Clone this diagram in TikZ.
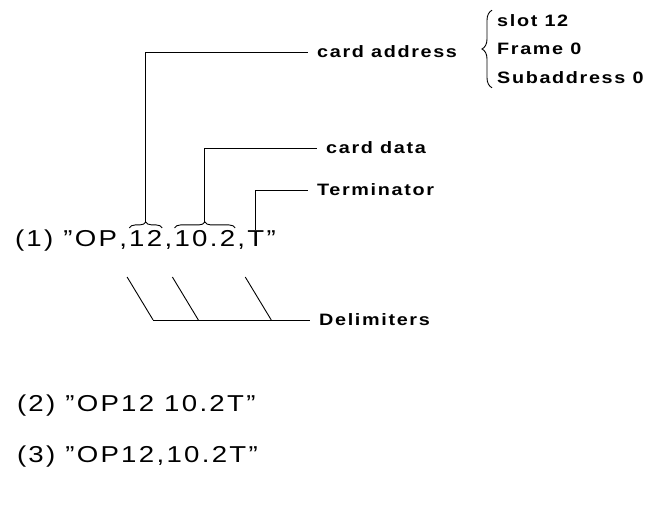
\documentclass[tikz,border=0pt]{standalone}
\usepackage{fontspec}
\setmainfont{Liberation Sans}
\newfontfamily\strfont{Liberation Sans}[FakeStretch=1.2,LetterSpace=10]
\newfontfamily\lblfont{Liberation Sans}[FakeStretch=1.2,LetterSpace=10]
\usetikzlibrary{positioning,decorations.pathreplacing,calc}
\def\gap{2.3pt}
\tikzset{
  str/.style={inner sep=0pt,outer sep=0pt,font=\strfont\fontsize{23}{27}\selectfont},
  lbl/.style={anchor=west,inner sep=0pt,inner xsep=9pt,
              font=\lblfont\bfseries\fontsize{16.5}{20}\selectfont},
  wire/.style={line width=.9pt},
  brc/.style={wire,decorate,decoration={brace,amplitude=#1}},
}

\begin{document}
\begin{tikzpicture}[x=1pt,y=1pt]
  \useasboundingbox (0,0) rectangle (664,504);
  % example (1), split so the parts can be pointed at
  \node[str,anchor=base west] (l1a) at (15,257) {(1) ”OP};
  \node[str,base right=\gap of l1a] (c1) {,};
  \node[str,base right=\gap of c1] (n12) {12};
  \node[str,base right=\gap of n12] (c2) {,};
  \node[str,base right=\gap of c2] (n102) {10.2};
  \node[str,base right=\gap of n102] (c3) {,};
  \node[str,base right=\gap of c3] (nT) {T};
  \node[str,base right=\gap of nT] (q1) {”};
  % labels
  \node[lbl] (addr) at (308,452) {card address};
  \node[lbl] (data) at (317,356) {card data};
  \node[lbl] (term) at (308,314) {Terminator};
  \node[lbl] (delim) at (310,184) {Delimiters};
  \node[lbl,inner xsep=0pt,inner ysep=4pt,align=left,
        font=\lblfont\bfseries\fontsize{16.5}{28.5}\selectfont]
        (parts) at (497,455) {slot 12\\Frame 0\\Subaddress 0};
  % braces and leaders
  \draw[brc=10pt] ([xshift=-5pt]parts.south west) -- ([xshift=-5pt]parts.north west);
  \draw[brc=6pt] ([yshift=3pt]n12.north west) -- ([yshift=3pt]n12.north east);
  \draw[brc=6pt] ([yshift=3pt]n102.north west) -- ([yshift=3pt]n102.north east);
  \draw[wire] ([yshift=9pt]n12.north) |- (addr.west);
  \draw[wire] ([yshift=9pt]n102.north) |- (data.west);
  \draw[wire] ([yshift=1pt]nT.north) |- (term.west);
  \foreach \i in {1,2,3}
    \draw[wire] ([xshift=4pt,yshift=-30pt]c\i.base) -- ++(26,-43) coordinate (d\i);
  \draw[wire] (d1) -- (delim.west);
  % examples (2) and (3)
  \node[str,anchor=base west] (ex2) at (17,93) {(2) ”OP12 10.2T”};
  \node[str,anchor=base west] (ex3) at (17,42) {(3) ”OP12,10.2T”};
\end{tikzpicture}
\end{document}
